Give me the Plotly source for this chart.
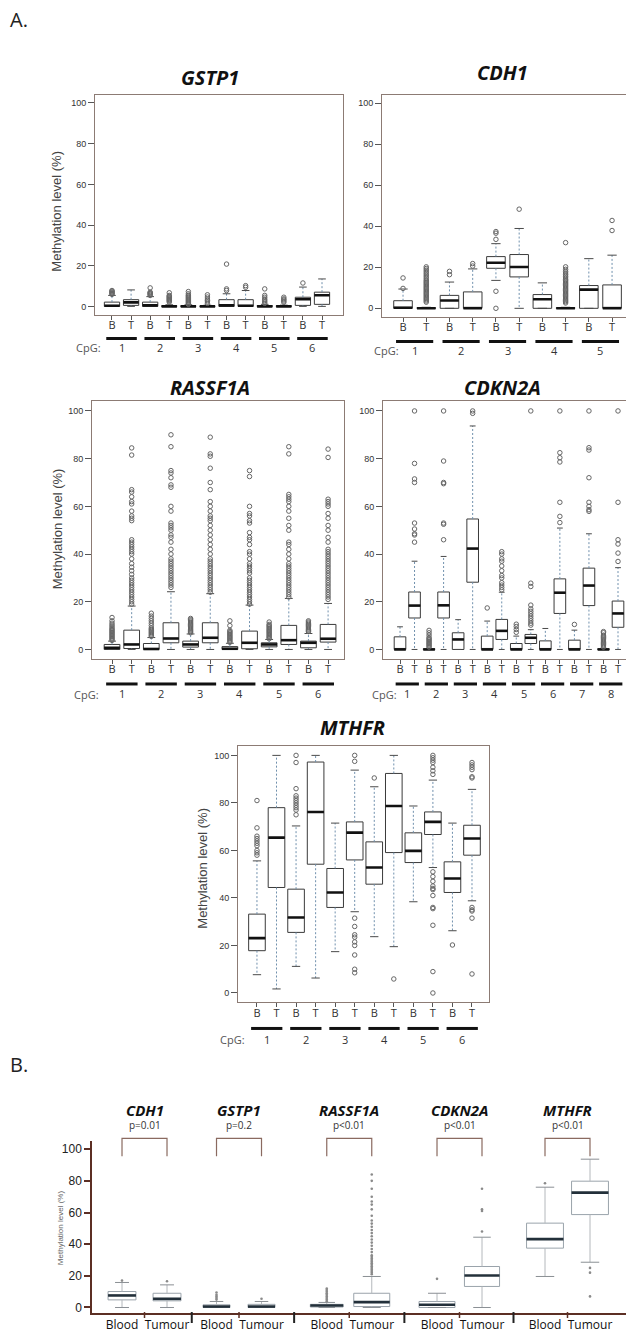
import plotly.graph_objects as go

W, H = 626, 1337

# ---------------- Panel A data (box statistics per CpG, B then T) ----------------
GSTP1_Q1 = [0, 0.5, 0, 0, 0, 0, 0, 0, 0, 0, 0.5, 1]
GSTP1_MED = [0.3, 2, 0.5, 0, 0, 0, 0.5, 0.3, 0, 0, 3.5, 5.5]
GSTP1_Q3 = [2.1, 3.3, 2.1, 0.3, 0.3, 0.2, 3.3, 3.3, 0.4, 0.3, 4.5, 7]
GSTP1_LO = [0, 0, 0, 0, 0, 0, 0, 0, 0, 0, 0, 0]
GSTP1_HI = [5.4, 8.1, 4.8, 0.8, 0.8, 0.6, 6.2, 7.8, 1, 0.6, 9.5, 13.5]
GSTP1_OUT = [
    [5.9, 6.3, 6.7, 7.1, 7.5, 7.8],
    [],
    [5.4, 5.9, 6.3, 6.7, 7.0, 9.1],
    [2.1, 2.6, 3.0, 3.4, 3.8, 4.2, 4.6, 5.0, 5.4, 6.7],
    [1.0, 1.5, 2.0, 2.5, 3.0, 3.5, 4.0, 4.5, 5.0, 5.5, 6.2, 7.3],
    [1.5, 2.2, 2.9, 3.6, 4.6, 5.7],
    [7.8, 8.6, 20.8],
    [9.4, 10.2],
    [1.5, 2.2, 2.9, 3.6, 4.5, 5.4, 8.6],
    [2.0, 2.6, 3.2, 3.7, 4.5],
    [11.5],
    [],
]

CDH1_Q1 = [0, 0, 0, 0, 19.5, 15.3, 0, 0, 0, 0]
CDH1_MED = [0.3, 0, 3.8, 0, 22.2, 20.1, 4.4, 0, 9.1, 0]
CDH1_Q3 = [3.7, 0.3, 6.3, 8.0, 25.2, 26.2, 6.7, 0.3, 11.1, 11.4]
CDH1_LO = [0, 0, 0, 0, 13.6, 0, 0, 0, 0, 0]
CDH1_HI = [9.4, 0.5, 12.8, 19.2, 31.5, 38.9, 12.4, 0.5, 24.2, 25.9]
CDH1_OUT = [
    [9.7, 14.8],
    [3.0, 3.6, 4.2, 4.8, 5.4, 6.0, 6.6, 7.2, 7.8, 8.4, 9.0, 9.6, 10.2, 10.8, 11.4, 12.0,
     12.6, 13.2, 13.8, 14.6, 15.4, 16.2, 17.0, 17.8, 18.6, 19.4, 20.2],
    [16.4, 18.0],
    [20.6, 21.8],
    [0, 8.3, 33.6, 36.6, 37.4],
    [48.3],
    [],
    [2.6, 3.2, 3.8, 4.4, 5.0, 5.6, 6.2, 6.8, 7.4, 8.0, 8.6, 9.2, 9.8, 10.4, 11.0, 11.6,
     12.2, 12.8, 13.4, 14.0, 14.8, 15.6, 16.4, 17.2, 18.0, 19.0, 20.2, 32.0],
    [],
    [37.9, 42.8],
]

RASSF1A_Q1 = [0, 0.4, 0, 2.8, 1.0, 2.8, 0, 0.3, 1.1, 2.1, 0.7, 3.1]
RASSF1A_MED = [0.7, 2.1, 0.2, 4.6, 2.1, 4.9, 0.3, 2.8, 2.1, 3.9, 2.8, 4.5]
RASSF1A_Q3 = [2.1, 8.1, 2.5, 11.2, 3.5, 11.2, 1.2, 7.7, 2.8, 10.1, 3.5, 10.5]
RASSF1A_LO = [0, 0, 0, 0, 0, 0, 0, 0, 0, 0, 0, 0]
RASSF1A_HI = [3.5, 18.2, 5.0, 24.2, 6.5, 23.4, 2.6, 18.6, 4.2, 21.4, 6.7, 19.3]
RASSF1A_OUT = [
    [3.8, 4.3, 4.8, 5.3, 5.8, 6.3, 6.8, 7.3, 7.8, 8.3, 8.8, 9.5, 10.2, 11, 12, 13.4],
    [19, 20, 21, 22, 23, 24, 25, 26, 27, 28, 29, 30, 31.5, 33, 34.5, 36, 38, 40, 41, 42,
     43, 44, 45, 46, 54, 55, 56, 58, 61, 62, 64, 66, 67, 81.5, 84.5],
    [5.5, 6, 6.5, 7, 7.5, 8, 8.5, 9, 10, 11, 12, 13, 14, 15.2],
    [26, 27, 28, 29, 30, 31, 32, 33, 34, 35, 36, 37, 38, 40, 42, 45, 47, 48, 50, 51, 52,
     53, 58, 60, 68, 69, 72, 74, 75, 85, 90],
    [7, 7.5, 8, 8.5, 9, 9.5, 10, 10.5, 11, 11.5, 12, 12.5, 13],
    [24, 25, 26, 27, 28, 29, 30, 31, 32, 33, 34, 35, 36, 37, 38, 40, 42, 44, 46, 48, 50,
     52, 54, 55, 56, 58, 60, 62, 67, 70, 76, 81, 82, 89],
    [3, 3.5, 4, 4.5, 5, 5.5, 6, 6.5, 7, 7.5, 8, 10, 12],
    [19, 20, 21, 22, 23, 24, 25, 26, 27, 28, 29, 30, 32, 33, 34, 35, 36, 38, 40, 41, 44,
     46, 47, 49, 53, 54, 56, 57, 60, 72.5, 75],
    [4.5, 5, 5.5, 6, 6.5, 7, 7.5, 8, 8.5, 9, 9.5, 10, 10.5, 11.5],
    [22, 23, 24, 25, 26, 27, 28, 29, 30, 31, 32, 33, 34, 35, 36, 38, 40, 42, 44, 45, 50,
     52, 55, 58, 60, 62, 63, 64, 65, 82, 85],
    [7.5, 8, 8.5, 9, 9.5, 10, 10.5, 11, 11.5, 12],
    [21, 22, 23, 24, 25, 26, 27, 28, 29, 30, 31, 32, 33, 34, 35, 36, 37, 38, 39, 40, 41,
     42, 45, 47, 50, 52, 55, 57, 60, 61, 62, 63, 80.5, 84],
]

CDKN2A_Q1 = [0, 13.2, 0, 13.2, 0, 28.2, 0, 4.2, 0, 2.5, 0, 15.1, 0, 18.4, 0, 9.3]
CDKN2A_MED = [0, 18.4, 0, 18.5, 4.2, 42.3, 0, 7.8, 0, 4.9, 0, 23.8, 0, 26.8, 0, 15.1]
CDKN2A_Q3 = [5.3, 24.1, 0.3, 24.1, 7.0, 54.7, 5.6, 12.6, 2.5, 6.3, 3.6, 29.6, 3.9, 34.1, 0.3, 20.3]
CDKN2A_LO = [0, 0, 0, 0, 0, 0, 0, 0, 0, 0, 0, 0, 0, 0, 0, 0]
CDKN2A_HI = [9.5, 37, 0.5, 39, 12.5, 93.7, 11.9, 24, 5.6, 8.3, 8.8, 50.9, 8.1, 48.5, 0.5, 34.3]
CDKN2A_OUT = [
    [],
    [45, 48, 48.5, 50.5, 53, 70, 71.5, 78, 100],
    [1, 1.5, 2, 2.5, 3, 3.5, 4, 4.5, 5, 6, 7, 8],
    [46, 52.5, 53, 69.5, 70, 79, 100],
    [],
    [99, 100],
    [17.4],
    [25, 26, 27, 28, 30, 31, 33, 35, 37, 38, 40, 41],
    [7.2, 8.4, 9.6, 10.6],
    [10.2, 11, 12, 13, 14, 15, 16, 17, 18.6, 26.4, 27.8, 100],
    [],
    [53.2, 55.8, 61.7, 78.6, 80.4, 82.5, 100],
    [10.5],
    [57.9, 58.6, 60, 61.7, 72, 83.6, 84.6, 100],
    [1, 1.5, 2, 2.5, 3, 3.5, 4, 4.5, 5, 5.5, 6, 7, 7.5],
    [36.9, 40.4, 44.2, 46, 61.7, 100],
]

MTHFR_Q1 = [17.8, 44.4, 25.5, 54.2, 36.0, 56.0, 45.8, 59.1, 54.9, 66.7, 42.3, 58.0]
MTHFR_MED = [23.1, 65.4, 31.8, 76.2, 42.3, 67.5, 52.8, 78.7, 59.8, 72.0, 48.2, 65.0]
MTHFR_Q3 = [33.2, 78.0, 43.7, 97.2, 52.4, 72.0, 63.6, 92.4, 67.4, 76.2, 55.2, 70.6]
MTHFR_LO = [7.7, 1.7, 11.2, 6.3, 17.4, 34.2, 23.7, 19.5, 38.4, 52.8, 26.2, 38.8]
MTHFR_HI = [55.6, 100, 70.3, 100, 71.5, 93.8, 86.8, 100, 78.7, 89.6, 71.5, 85.7]
MTHFR_OUT = [
    [58, 59, 60, 62, 63, 64, 65, 66, 69.5, 81],
    [],
    [75, 77, 78, 79, 80, 81, 82, 83, 86, 97, 100],
    [],
    [],
    [8.5, 10, 16, 20, 21.5, 23.5, 24.5, 28, 31.5, 97.5, 100],
    [90.5],
    [5.9],
    [],
    [0, 9, 28.5, 35.5, 36, 41, 43.5, 44, 45, 47, 49, 51, 92, 93.5, 95, 97, 98, 99, 100],
    [20.2],
    [8, 31.5, 34.5, 35, 36, 90.5, 91, 94, 95, 96, 97],
]

GROUP_LABELS = ["B", "T"]

# ---------------- Panel B data (Blood / Tumour per gene) ----------------
B_GENES = ["CDH1", "GSTP1", "RASSF1A", "CDKN2A", "MTHFR"]
B_PVALUES = ["p=0.01", "p=0.2", "p<0.01", "p<0.01", "p<0.01"]
B_SAMPLES = ["Blood", "Tumour"]
B_Q1 = [4.8, 4.2, 0, 0, 0.3, 0.6, 0, 13.3, 37.5, 58.7]
B_MED = [7.6, 5.5, 0.6, 0.6, 1.3, 3.4, 1.7, 20.2, 43.2, 72.6]
B_Q3 = [10.1, 9.0, 1.7, 2.0, 2.0, 9.0, 3.8, 25.9, 53.3, 79.8]
B_LO = [0, 0, 0, 0, 0, 0, 0, 0, 19.6, 28.6]
B_HI = [15.8, 14.3, 3.8, 3.8, 3.2, 19.6, 9.0, 44.4, 76.0, 93.7]
B_OUT = [
    [17],
    [16.6],
    [5, 6, 7, 8, 9.5],
    [5.5],
    [4, 5, 6, 7, 8, 9, 10, 11, 12],
    [21, 22, 23, 24, 25, 26, 27, 28, 29, 30, 31, 32, 33, 35, 37, 39, 41, 43, 45, 47,
     49, 51, 53, 55, 58, 62, 65, 67, 70, 75, 80, 84],
    [18.1],
    [48, 61, 62, 75],
    [78.5],
    [7, 22, 25],
]
B_WIDTHS = [0.62, 0.62, 0.6, 0.6, 0.73, 0.8, 0.8, 0.78, 0.82, 0.82]
B_GROUP_CENTERS = [1.5, 3.6, 6.05, 8.5, 10.9]


def px_x(p):
    return p / W


def px_y(p):
    return 1 - p / H


def note(x, y, text, size, color, family="Open Sans", xref="paper", angle=0):
    xv = px_x(x) if xref == "paper" else x
    return dict(x=xv, y=px_y(y), xref=xref, yref="paper", showarrow=False, text=text,
                xanchor="center", yanchor="middle", textangle=angle,
                font=dict(family=family, size=size, color=color))


FRAME = "#8c7b74"
BROWN = "#5c2f24"
fig = go.Figure()
annotations = []
shapes = []
layout_axes = {}

panels = [
    dict(title="GSTP1", q1=GSTP1_Q1, med=GSTP1_MED, q3=GSTP1_Q3, lo=GSTP1_LO, hi=GSTP1_HI, out=GSTP1_OUT,
         k="", xpx=(95, 343), ypx=(95, 315), xr=(0.11, 13.1), bw=0.8, right=True,
         title_xy=(210, 78), ytitle_xy=(57, 212), cpg_xy=(88, 348), bar_y=339, num_y=348),
    dict(title="CDH1", q1=CDH1_Q1, med=CDH1_MED, q3=CDH1_Q3, lo=CDH1_LO, hi=CDH1_HI, out=CDH1_OUT,
         k="2", xpx=(382, 626), ypx=(95, 317), xr=(0.095, 10.6), bw=0.8, right=False,
         title_xy=(502, 73), ytitle_xy=None, cpg_xy=(386, 351), bar_y=342, num_y=351),
    dict(title="RASSF1A", q1=RASSF1A_Q1, med=RASSF1A_MED, q3=RASSF1A_Q3, lo=RASSF1A_LO, hi=RASSF1A_HI,
         out=RASSF1A_OUT, k="3", xpx=(92, 344), ypx=(402, 660), xr=(-0.02, 12.81), bw=0.8, right=True,
         title_xy=(210, 388), ytitle_xy=(57, 530), cpg_xy=(86, 696), bar_y=685, num_y=695),
    dict(title="CDKN2A", q1=CDKN2A_Q1, med=CDKN2A_MED, q3=CDKN2A_Q3, lo=CDKN2A_LO, hi=CDKN2A_HI,
         out=CDKN2A_OUT, k="4", xpx=(383, 626), ypx=(402, 660), xr=(-0.17, 16.55), bw=0.8, right=False,
         title_xy=(503, 388), ytitle_xy=None, cpg_xy=(384, 696), bar_y=685, num_y=695),
    dict(title="MTHFR", q1=MTHFR_Q1, med=MTHFR_MED, q3=MTHFR_Q3, lo=MTHFR_LO, hi=MTHFR_HI, out=MTHFR_OUT,
         k="5", xpx=(238, 489), ypx=(747, 1004), xr=(0.03, 12.87), bw=0.85, right=True,
         title_xy=(352, 729), ytitle_xy=(203, 870), cpg_xy=(232, 1041), bar_y=1030, num_y=1041),
]

for P in panels:
    k = P["k"]
    xa, ya = "x" + k, "y" + k
    n = len(P["q1"])
    pos = list(range(1, n + 1))
    bw = P["bw"]
    cap = bw * 0.25
    wx, wy = [], []
    cx, cy = [], []
    mx, my = [], []
    for p, a, b, m, c, d in zip(pos, P["lo"], P["q1"], P["med"], P["q3"], P["hi"]):
        wx += [p, p, None, p, p, None]
        wy += [c, d, None, b, a, None]
        cx += [p - cap, p + cap, None, p - cap, p + cap, None]
        cy += [d, d, None, a, a, None]
        mx += [p - bw / 2, p + bw / 2, None]
        my += [m, m, None]
    fig.add_trace(go.Scatter(x=wx, y=wy, mode="lines", xaxis=xa, yaxis=ya, hoverinfo="skip",
                             line=dict(color="#7090ad", width=1, dash="2px,2px")))
    fig.add_trace(go.Box(x=pos, q1=P["q1"], median=P["med"], q3=P["q3"],
                         lowerfence=P["q1"], upperfence=P["q3"], width=bw,
                         fillcolor="white", line=dict(color="#3a3a3a", width=1),
                         whiskerwidth=0, xaxis=xa, yaxis=ya, hoverinfo="skip"))
    fig.add_trace(go.Scatter(x=cx, y=cy, mode="lines", xaxis=xa, yaxis=ya, hoverinfo="skip",
                             line=dict(color="#4a4a4a", width=1)))
    fig.add_trace(go.Scatter(x=mx, y=my, mode="lines", xaxis=xa, yaxis=ya, hoverinfo="skip",
                             line=dict(color="#111111", width=2.6)))
    ox, oy = [], []
    for p, vals in zip(pos, P["out"]):
        ox += [p] * len(vals)
        oy += vals
    fig.add_trace(go.Scatter(x=ox, y=oy, mode="markers", xaxis=xa, yaxis=ya, hoverinfo="skip",
                             marker=dict(symbol="circle-open", size=4.5, color="#666666",
                                         line=dict(width=1, color="#666666"))))

    xl, xr_ = P["xpx"]
    yt, yb = P["ypx"]
    layout_axes["xaxis" + k] = dict(
        domain=[px_x(xl), px_x(xr_)], anchor=ya, range=list(P["xr"]),
        tickvals=pos, ticktext=[GROUP_LABELS[i % 2] for i in range(n)], tickangle=0,
        ticks="outside", ticklen=4, tickcolor="#555", tickwidth=1, ticklabelstandoff=-4,
        tickfont=dict(family="Open Sans", size=11, color="#333"),
        showline=True, linecolor=FRAME, linewidth=1, mirror=True,
        showgrid=False, zeroline=False)
    layout_axes["yaxis" + k] = dict(
        domain=[px_y(yb), px_y(yt)], anchor=xa, range=[-4, 104],
        tickvals=[0, 20, 40, 60, 80, 100], ticks="outside", ticklen=6, tickcolor="#555",
        tickfont=dict(family="Liberation Sans", size=9, color="#333"),
        showline=True, linecolor=FRAME, linewidth=1, mirror=P["right"],
        showgrid=False, zeroline=False)

    tx, ty = P["title_xy"]
    annotations.append(note(tx, ty, "<b><i>%s</i></b>" % P["title"], 20, "#111"))
    if P["ytitle_xy"]:
        ax_, ay_ = P["ytitle_xy"]
        annotations.append(note(ax_, ay_, "Methylation level (%)", 13, "#444",
                                family="Liberation Sans", angle=-90))
    gx, gy = P["cpg_xy"]
    annotations.append(note(gx, gy, "CpG:", 11, "#555"))
    for i in range(n // 2):
        b, t = pos[2 * i], pos[2 * i + 1]
        shapes.append(dict(type="line", xref=xa, yref="paper", x0=b - 0.3, x1=t + 0.3,
                           y0=px_y(P["bar_y"]), y1=px_y(P["bar_y"]),
                           line=dict(color="#111", width=3)))
        annotations.append(note((b + t) / 2, P["num_y"], str(i + 1), 11, "#333", xref=xa))

# ---------------- Panel B ----------------
b_pos = []
for c in B_GROUP_CENTERS:
    b_pos += [c - 0.5, c + 0.5]

wx, wy, cx, cy, mx, my = [], [], [], [], [], []
for p, a, b, m, c, d, w in zip(b_pos, B_LO, B_Q1, B_MED, B_Q3, B_HI, B_WIDTHS):
    wx += [p, p, None, p, p, None]
    wy += [c, d, None, b, a, None]
    cap = w * 0.25
    cx += [p - cap, p + cap, None, p - cap, p + cap, None]
    cy += [d, d, None, a, a, None]
    mx += [p - w / 2, p + w / 2, None]
    my += [m, m, None]
fig.add_trace(go.Scatter(x=wx, y=wy, mode="lines", xaxis="x6", yaxis="y6", hoverinfo="skip",
                         line=dict(color="#b4b8bc", width=1)))
for i, p in enumerate(b_pos):
    fig.add_trace(go.Box(x=[p], q1=[B_Q1[i]], median=[B_MED[i]], q3=[B_Q3[i]],
                         lowerfence=[B_Q1[i]], upperfence=[B_Q3[i]], width=B_WIDTHS[i],
                         fillcolor="white", line=dict(color="#9aa3ab", width=1),
                         whiskerwidth=0, xaxis="x6", yaxis="y6", hoverinfo="skip"))
fig.add_trace(go.Scatter(x=cx, y=cy, mode="lines", xaxis="x6", yaxis="y6", hoverinfo="skip",
                         line=dict(color="#8a8f94", width=1)))
fig.add_trace(go.Scatter(x=mx, y=my, mode="lines", xaxis="x6", yaxis="y6", hoverinfo="skip",
                         line=dict(color="#23303a", width=2.6)))
ox, oy = [], []
for p, vals in zip(b_pos, B_OUT):
    ox += [p] * len(vals)
    oy += vals
fig.add_trace(go.Scatter(x=ox, y=oy, mode="markers", xaxis="x6", yaxis="y6", hoverinfo="skip",
                         marker=dict(symbol="circle", size=2.6, color="#8a8a8a")))

layout_axes["xaxis6"] = dict(
    domain=[px_x(92), 1.0], anchor="y6", range=[0.333, 12.2],
    tickvals=b_pos, ticktext=[B_SAMPLES[i % 2] for i in range(len(b_pos))], tickangle=0,
    ticks="", tickfont=dict(family="Open Sans", size=12, color="#111"),
    showline=True, linecolor=BROWN, linewidth=1.5, showgrid=False, zeroline=False)
layout_axes["yaxis6"] = dict(
    domain=[px_y(1315), px_y(1143)], anchor="x6", range=[-3.5, 105],
    tickvals=[0, 20, 40, 60, 80, 100], ticks="outside", ticklen=6, tickcolor=BROWN, tickwidth=1.5,
    tickfont=dict(family="Liberation Sans", size=12, color="#222"),
    showline=True, linecolor=BROWN, linewidth=1.5, showgrid=False, zeroline=False)

for gi, c in enumerate(B_GROUP_CENTERS):
    annotations.append(note(c, 1112, "<b><i>%s</i></b>" % B_GENES[gi], 15, "#111", xref="x6"))
    annotations.append(note(c, 1127, B_PVALUES[gi], 10, "#333", xref="x6"))
    b, t = c - 0.5, c + 0.5
    yt, yb = px_y(1140), px_y(1158)
    shapes.append(dict(type="path", xref="x6", yref="paper",
                       path="M %f,%f L %f,%f L %f,%f L %f,%f" % (b, yb, b, yt, t, yt, t, yb),
                       line=dict(color="#8a6a60", width=1.2)))
    shapes.append(dict(type="line", xref="x6", yref="paper", x0=c, x1=c,
                       y0=px_y(1314), y1=px_y(1320), line=dict(color=BROWN, width=1.5)))
for gi in range(len(B_GROUP_CENTERS) - 1):
    m = (B_GROUP_CENTERS[gi] + B_GROUP_CENTERS[gi + 1]) / 2
    shapes.append(dict(type="line", xref="x6", yref="paper", x0=m, x1=m,
                       y0=px_y(1314), y1=px_y(1325), line=dict(color="#222", width=2)))

annotations.append(note(60, 1230, "Methylation level (%)", 8, "#666", family="Liberation Sans", angle=-90))
a_lab = note(8, 20, "A.", 20, "#222")
a_lab["xanchor"] = "left"
b_lab = note(8, 1066, "B.", 20, "#222")
b_lab["xanchor"] = "left"
annotations += [a_lab, b_lab]

fig.update_layout(
    width=W, height=H, margin=dict(l=0, r=0, t=0, b=0),
    paper_bgcolor="white", plot_bgcolor="white", showlegend=False,
    annotations=annotations, shapes=shapes, **layout_axes)

fig.write_html("out.html", config={"displayModeBar": False},
               post_script="document.body.style.margin='0';document.body.style.overflow='hidden';")
